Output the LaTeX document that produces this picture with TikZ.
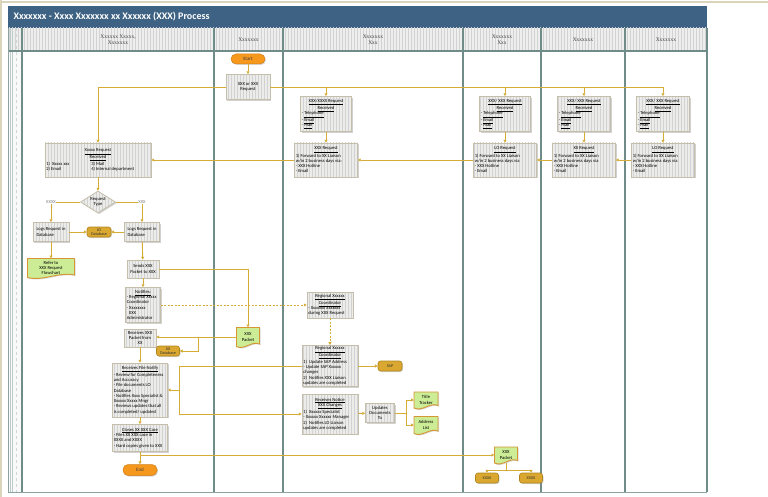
\documentclass[tikz,border=0pt]{standalone}
\usepackage{fontspec}
\setmainfont{Carlito}
\newfontfamily\hdrfont{Liberation Serif}
\usetikzlibrary{arrows.meta,shadows,patterns,shapes.geometric,calc}

\definecolor{titlebg}{RGB}{62,98,132}
\definecolor{laneline}{RGB}{112,140,136}
\definecolor{conncol}{RGB}{214,172,56}
\definecolor{boxfill}{RGB}{236,236,234}
\definecolor{boxline}{RGB}{196,190,170}
\definecolor{stripecol}{RGB}{210,210,210}
\definecolor{goldfill}{RGB}{218,168,48}
\definecolor{goldline}{RGB}{176,132,28}
\definecolor{orangefill}{RGB}{246,152,30}
\definecolor{docfill}{RGB}{204,236,150}
\definecolor{docline}{RGB}{214,150,52}
\definecolor{beige}{RGB}{218,212,186}
\definecolor{hdrfill}{RGB}{238,238,238}

\newcommand\bfnt{\fontsize{4.6}{5.3}\selectfont}
\newcommand\gfnt{\fontsize{4.2}{4.6}\selectfont}
\newcommand\bttl[1]{\makebox[\dimexpr\bw pt-2.6pt\relax][c]{\underline{#1}}}
\newcommand\bw{40}

\tikzset{
 conn/.style={draw=conncol, line width=0.9pt, -{Triangle[length=2.8pt,width=3pt]}},
 plainline/.style={draw=conncol, line width=0.9pt},
 dashconn/.style={conn, dash pattern=on 2pt off 1.5pt},
 procbox/.style={drop shadow={shadow xshift=1.2pt,shadow yshift=-1.2pt,opacity=0.35},
   preaction={fill=boxfill}, pattern=vertical lines, pattern color=stripecol,
   draw=boxline, line width=0.8pt, font=\bfnt, inner sep=1.3pt, align=left},
 pb/.style={procbox, minimum width=#1pt, execute at begin node={\def\bw{#1}}},
 goldbox/.style={drop shadow={shadow xshift=1pt,shadow yshift=-1pt,opacity=0.3},
   fill=goldfill, draw=goldline, line width=0.6pt, rounded corners=2.5pt,
   font=\gfnt, align=center, inner sep=0pt, text=black!80},
 pill/.style={drop shadow={shadow xshift=1pt,shadow yshift=-1pt,opacity=0.3},
   fill=orangefill, draw=orangefill!85!black, line width=0.5pt, rounded corners=5pt,
   font=\fontsize{5}{6}\selectfont, inner sep=0pt, text=black!75},
 doctext/.style={font=\bfnt, align=center, inner sep=0pt},
 docshape/.style={drop shadow={shadow xshift=1pt,shadow yshift=-1pt,opacity=0.3},
   fill=docfill, draw=docline, line width=0.9pt},
 lbl/.style={font=\bfnt, text=gray, fill=white, inner sep=0.6pt},
 hdr/.style={font=\hdrfont\fontsize{5.5}{6.5}\selectfont, align=center, text=black!75},
}

% name, cx, cy, w, h, text
\newcommand\docnode[6]{%
 \filldraw[docshape] ({#2-#4/2},{#3-#5/2}) -- ({#2+#4/2},{#3-#5/2})
   -- ({#2+#4/2},{#3+#5/2-2.5})
   .. controls ({#2+#4/6},{#3+#5/2-6}) and ({#2-#4/6},{#3+#5/2+4}) ..
   ({#2-#4/2},{#3+#5/2}) -- cycle;
 \node[doctext, minimum width=#4pt, minimum height=#5pt] (#1) at (#2,#3) {#6};
}

\begin{document}
\begin{tikzpicture}[x=1pt,y=-1pt]
\useasboundingbox (0,0) rectangle (768,497);
\fill[white] (0,0) rectangle (768,497);
\draw[beige, line width=1.5pt] (0,2) -- (768,2);
\draw[beige, line width=1.5pt] (1,0) -- (1,497);

% title bar
\fill[titlebg] (8,6) rectangle (707,28);
\node[anchor=west, text=white, font=\bfseries\fontsize{10}{12}\selectfont] (title) at (10,17)
  {Xxxxxxx - Xxxx Xxxxxxx xx Xxxxxx (XXX) Process};

% header row
\fill[hdrfill] (8,28) rectangle (707,51);
\fill[pattern=vertical lines, pattern color=stripecol] (8,28) rectangle (707,51);

% left strip
\fill[gray!5] (8,51) rectangle (22,492);
\draw[laneline!45, line width=0.4pt] (10.5,28) -- (10.5,492) (12.5,28) -- (12.5,492);
\draw[laneline!35, dashed, line width=0.3pt] (16.5,28) -- (16.5,492);

% lanes
\foreach \x in {22,214,283,463,541,625,707} \draw[laneline, line width=1.1pt] (\x,28) -- (\x,492);
\draw[laneline, line width=1.3pt] (8,51) -- (707,51);
\draw[laneline!80, line width=1pt] (8,492) -- (707,492);
\draw[laneline!80, line width=0.6pt] (8,28) -- (8,492);

\node[hdr] (h1) at (118,39.5) {Xxxxxx Xxxxx,\\Xxxxxxx};
\node[hdr] (h2) at (248.5,39.5) {Xxxxxxx};
\node[hdr] (h3) at (373,39.5) {Xxxxxxx\\Xxx};
\node[hdr] (h4) at (502,39.5) {Xxxxxxx\\Xxx};
\node[hdr] (h5) at (583,39.5) {Xxxxxxx};
\node[hdr] (h6) at (666,39.5) {Xxxxxxx};

% ---- nodes ----
\node[pill, minimum width=34pt, minimum height=10pt] (start) at (248,59) {Start};
\node[procbox, align=center, minimum width=44pt, minimum height=25pt] (req) at (248,87) {XXX or XXX\\Request};

\node[pb=106, minimum height=34pt] (xreq) at (98,160)
 {\bttl{Xxxxx Request}\\\bttl{Received}\\
  \makebox[45pt][l]{1)\ \ Xxxxx xxx}3) Mail\\
  \makebox[45pt][l]{2) Email}4) Internal department};

\node[pb=51, minimum height=35pt] (c3rcv) at (326,114)
 {\bttl{XXX/XXXX Request}\\\bttl{Received}\\- \underline{Telephone}\\- \underline{Email}\\- \underline{Mail}};
\node[pb=63, minimum height=34pt] (c3req) at (326,160)
 {\bttl{XXX Request}\\1) Forward to XX Liaison\\w/in 2 business days via:\\- XXX Hotline\\- Email};

\node[pb=51, minimum height=35pt] (c4rcv) at (505,114)
 {\bttl{XXX/ XXX Request}\\\bttl{Received}\\- \underline{Telephone}\\- \underline{Email}\\- \underline{Mail}};
\node[pb=63, minimum height=34pt] (c4req) at (505,160)
 {\bttl{LO Request}\\1) Forward to XX Liaison\\w/in 2 business days via\\- XXX Hotline\\- Email};

\node[pb=53, minimum height=35pt] (c5rcv) at (584,114)
 {\bttl{XXX/ XXX Request}\\\bttl{Received}\\- \underline{Telephone}\\- \underline{Email}\\- \underline{Mail}};
\node[pb=63, minimum height=34pt] (c5req) at (584,160)
 {\bttl{XX Request}\\1) Forward to XX Liaison\\w/in 2 business days via\\- XXX Hotline\\- Email};

\node[pb=53, minimum height=35pt] (c6rcv) at (663,114)
 {\bttl{XXX/ XXX Request}\\\bttl{Received}\\- \underline{Telephone}\\- \underline{Email}\\- \underline{Mail}};
\node[pb=63, minimum height=34pt] (c6req) at (663,160)
 {\bttl{LO Request}\\1) Forward to XX Liaison\\w/in 2 business days via\\- XXX Hotline\\- Email};

\node[procbox, diamond, align=center, aspect=1.6, inner sep=0pt, minimum width=35pt, minimum height=22pt] (type) at (98,202) {Request\\Type};

\node[pb=36, minimum height=19pt] (logsL) at (51,232) {Logs Request in\\Database};
\node[goldbox, minimum width=24pt, minimum height=10pt] (lodb) at (99,232) {LO\\Database};
\node[pb=35, minimum height=19pt] (logsR) at (142,232) {Logs Request in\\Database};

\docnode{refer}{51}{268}{47}{19}{Refer to\\XXX Request\\Flowchart}
\node[procbox, align=center, minimum width=32pt, minimum height=18pt] (sends) at (143,269) {Sends XXX\\Packet to XXX};
\node[pb=35, minimum height=35pt] (notif) at (143,305)
 {\bttl{Notifies:}\\- Regional Xxxxx\\Coordinator\\- Xxxxxxxx\\\ \ XXX\\Administrator};
\docnode{pkt}{248}{337}{23}{19}{XXX\\Packet}
\node[procbox, align=center, minimum width=32pt, minimum height=18pt] (rcvpkt) at (140,338) {Receives XXX\\Packet from\\XX};
\node[goldbox, minimum width=23pt, minimum height=10pt] (xxdb) at (168,351) {XX\\Database};

\node[pb=55, minimum height=54pt] (rfn) at (140,390)
 {\bttl{Receives File Notify}\\- Review for Completeness\\and Accuracy\\- File documents LO\\Database\\- Notifies Xxxx Specialist \&\\Xxxxxx Xxxxx Mngr\\- Reviews updates that all\\is completed/ updated};
\node[pb=55, minimum height=27pt] (closes) at (140,438)
 {\bttl{Closes XX XXX Case}\\- Files XX XXX case in\\XXXX and XXXX\\- Hard copies given to XXX};
\node[pill, minimum width=34pt, minimum height=11pt] (endn) at (140,470) {End};

\node[pb=46, minimum height=26pt] (rc1) at (330,305)
 {\bttl{Regional Xxxxxx}\\\bttl{Coordinator}\\- Xxxxxxx Xxxxxxx\\during XXX Request};
\node[pb=56, minimum height=40pt] (rc2) at (330,366)
 {\bttl{Regional Xxxxxx}\\\bttl{Coordinator}\\1)\ \ Update SAP Address\\- Update SAP Xxxxxx\\changes\\2)\ \ Notifies XXX Liaison\\updates are completed};
\node[goldbox, minimum width=24pt, minimum height=10pt] (sap) at (390,366) {SAP};
\node[pb=56, minimum height=40pt] (rnot) at (330,414)
 {\bttl{Receives Notice}\\\bttl{XXX Changes}\\1)\ \ Xxxxxx Specialist\\- Xxxxxx Xxxxxx Manager\\2)\ \ Notifies LO Liaison\\updates are completed};
\node[procbox, align=center, minimum width=29pt, minimum height=19pt] (upd) at (380,413) {Updates\\Documents\\To};
\docnode{tracker}{426}{400}{24}{16}{Title\\Tracker}
\docnode{addr}{426}{425}{24}{17}{Address\\List}

\docnode{pkt2}{506}{455}{23}{16}{XXX\\Packet}
\node[goldbox, minimum width=23pt, minimum height=10pt] (g1) at (487,478) {XXXX};
\node[goldbox, minimum width=23pt, minimum height=10pt] (g2) at (531,478) {XXXX};

% ---- connectors ----
\draw[conn] (start) -- (req);
\draw[conn] (req.west) -| (xreq.north);
\draw[conn] (req.east) -| (c6rcv.north);
\draw[conn] (c3rcv.north |- req.east) -- (c3rcv.north);
\draw[conn] (c4rcv.north |- req.east) -- (c4rcv.north);
\draw[conn] (c5rcv.north |- req.east) -- (c5rcv.north);
\draw[conn] (c3rcv) -- (c3req);
\draw[conn] (c4rcv) -- (c4req);
\draw[conn] (c5rcv) -- (c5req);
\draw[conn] (c6rcv) -- (c6req);
\draw[conn] (c6req.west) -- (c5req.east);
\draw[conn] (c5req.west) -- (c4req.east);
\draw[conn] (c4req.west) -- (c3req.east);
\draw[conn] (c3req.west) -- (xreq.east);
\draw[conn] (xreq) -- (type);
\draw[conn] (type.west) -| node[lbl, pos=0.5] {XXXX} (logsL.north);
\draw[conn] (type.east) -| node[lbl, pos=0.5] {XXX} (logsR.north);
\draw[conn] (logsL) -- (lodb);
\draw[conn] (logsR) -- (lodb);
\draw[conn] (logsL) -- (refer);
\draw[conn] (logsR) -- (sends);
\draw[conn] (sends.east) -| (pkt.north);
\draw[conn] (sends) -- (notif);
\draw[dashconn] (notif.east) -- (rc1.west);
\draw[dashconn] (rc1) -- (rc2);
\coordinate (j1) at (198,337);
\draw[conn] (pkt.west) -- (rcvpkt.east |- pkt.west);
\draw[conn] (j1) |- (xxdb.east);
\draw[conn] (rcvpkt) -- (rfn);
\coordinate (bx) at (179,390);
\draw[conn] (rc2.west) -| (bx) -- (rfn.east);
\draw[conn] (bx) |- (rnot.west);
\draw[conn] (rfn) -- (closes);
\draw[conn] (closes) -- (endn);
\draw[conn] (closes.south |- pkt2.west) -- (pkt2.west);
\draw[conn] (rc2) -- (sap);
\draw[conn] (rnot) -- (upd);
\coordinate (fk) at (406,413);
\draw[plainline] (upd.east) -- (fk);
\draw[conn] (fk) |- (tracker.west);
\draw[conn] (fk) |- (addr.west);
\coordinate (sp) at (506,470.5);
\draw[plainline] (pkt2.south) -- (sp);
\draw[conn] (sp) -| (g1.north);
\draw[conn] (sp) -| (g2.north);
\end{tikzpicture}
\end{document}
